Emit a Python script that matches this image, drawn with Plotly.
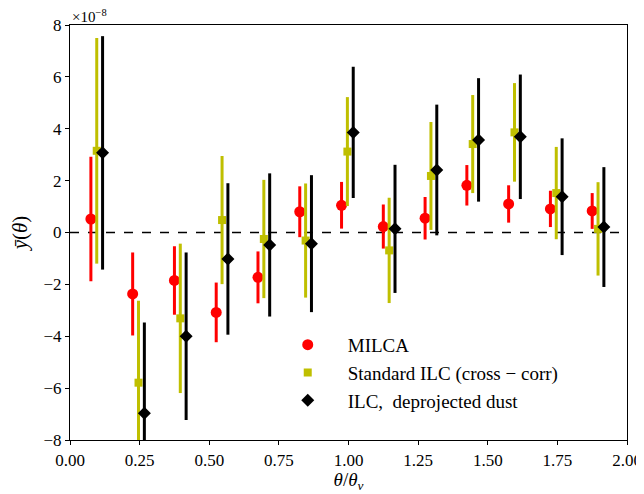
import plotly.graph_objects as go

# bin centres (theta / theta_v)
theta = [0.075, 0.225, 0.375, 0.525, 0.675, 0.825, 0.975, 1.125, 1.275, 1.425, 1.575, 1.725, 1.875]
off_silc = 0.021
off_dep = 0.042

# values in units of 1e-8
milca = [0.52, -2.37, -1.85, -3.08, -1.73, 0.80, 1.05, 0.23, 0.55, 1.82, 1.10, 0.91, 0.83]
milca_err = [2.40, 1.60, 1.32, 1.15, 1.00, 0.98, 0.90, 0.85, 0.82, 0.78, 0.72, 0.70, 0.69]

silc = [3.15, -5.79, -3.31, 0.48, -0.25, -0.31, 3.12, -0.69, 2.18, 3.41, 3.86, 1.52, 0.14]
silc_err = [4.35, 3.16, 2.88, 2.47, 2.28, 2.20, 2.10, 2.03, 2.08, 1.89, 1.90, 1.78, 1.80]

dep = [3.07, -6.97, -4.00, -1.02, -0.48, -0.43, 3.86, 0.14, 2.41, 3.57, 3.69, 1.38, 0.21]
dep_err = [4.50, 3.50, 3.23, 2.92, 2.76, 2.64, 2.53, 2.47, 2.52, 2.38, 2.40, 2.25, 2.31]

x_ticks = [0.00, 0.25, 0.50, 0.75, 1.00, 1.25, 1.50, 1.75, 2.00]
y_ticks = [-8, -6, -4, -2, 0, 2, 4, 6, 8]

FONT = "Liberation Serif"

fig = go.Figure()

fig.add_trace(go.Scatter(
    x=theta, y=milca, mode="markers", name="MILCA",
    marker=dict(symbol="circle", size=11, color="red"),
    error_y=dict(type="data", array=milca_err, color="red", thickness=3, width=0),
))
fig.add_trace(go.Scatter(
    x=[t + off_silc for t in theta], y=silc, mode="markers",
    name="Standard ILC (cross − corr)",
    marker=dict(symbol="square", size=8, color="#bfbf00"),
    error_y=dict(type="data", array=silc_err, color="#bfbf00", thickness=3, width=0),
))
fig.add_trace(go.Scatter(
    x=[t + off_dep for t in theta], y=dep, mode="markers",
    name="ILC,  deprojected dust",
    marker=dict(symbol="diamond", size=10, color="black"),
    error_y=dict(type="data", array=dep_err, color="black", thickness=3, width=0),
))

fig.add_shape(type="line", xref="paper", yref="y", x0=0, x1=1, y0=0, y1=0,
              line=dict(color="black", width=1.3, dash="dash"), layer="below")

fig.add_annotation(xref="paper", yref="paper", x=0.0, y=1.0, xanchor="left", yanchor="bottom",
                   text="×10<sup>−8</sup>", showarrow=False,
                   font=dict(family=FONT, size=15, color="black"), yshift=-2)

# the page body adds an 8 px offset; figure sized to fill the window exactly
fig.update_layout(
    width=636, height=486,
    margin=dict(l=62, r=17, t=17, b=54, autoexpand=False),
    plot_bgcolor="white", paper_bgcolor="white",
    font=dict(family=FONT, size=17, color="black"),
    showlegend=True,
    legend=dict(x=0.355, y=0.275, xanchor="left", yanchor="top", itemwidth=70,
                bgcolor="rgba(0,0,0,0)", font=dict(family=FONT, size=19)),
)
fig.update_xaxes(
    range=[0, 2], tickvals=x_ticks, ticktext=[f"{v:.2f}" for v in x_ticks],
    showline=True, linecolor="black", linewidth=1.2, mirror=True, automargin=False,
    ticks="outside", ticklen=4, tickcolor="black", showgrid=False, zeroline=False,
    title=dict(text="<i>θ</i>/<i>θ<sub>v</sub></i>", font=dict(family=FONT, size=19), standoff=0),
    tickfont=dict(family=FONT, size=17),
)
fig.update_yaxes(
    range=[-8, 8], tickvals=y_ticks, ticktext=[("−" + str(-v)) if v < 0 else str(v) for v in y_ticks],
    showline=True, linecolor="black", linewidth=1.2, mirror=True, automargin=False,
    ticks="outside", ticklen=4, tickcolor="black", showgrid=False, zeroline=False,
    title=dict(text="<i>ȳ</i>(<i>θ</i>)", font=dict(family=FONT, size=21), standoff=10),
    tickfont=dict(family=FONT, size=17),
)

fig.write_html("out.html")
